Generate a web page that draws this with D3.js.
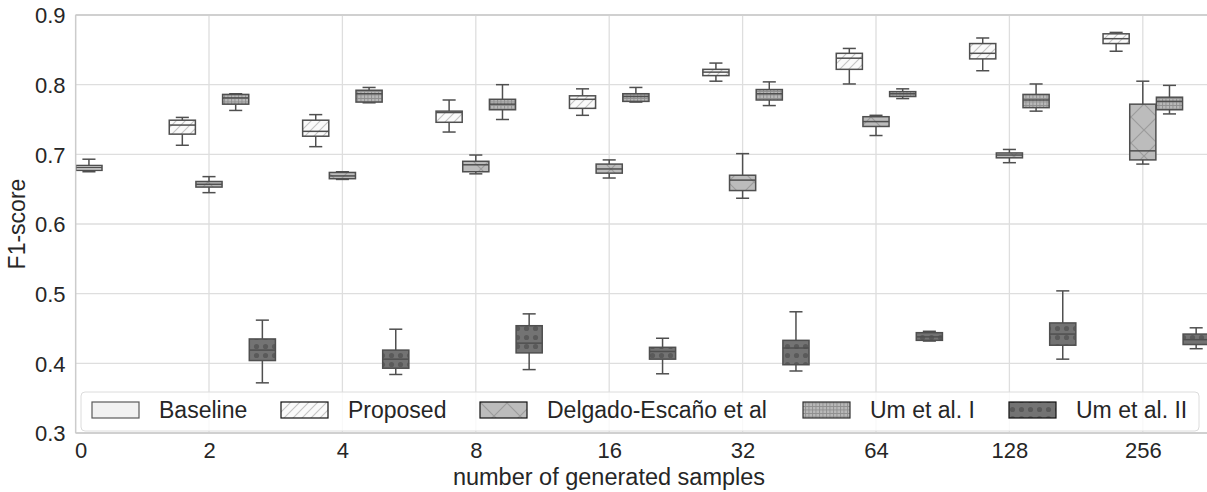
<!DOCTYPE html>
<html>
<head>
<meta charset="utf-8">
<script src="https://cdn.jsdelivr.net/npm/d3@7"></script>
<style>
  body { margin: 0; background: #fff; }
  svg text { font-family: "Liberation Sans", Arial, sans-serif; fill: #262626; }
</style>
</head>
<body>
<svg width="1207" height="492"></svg>
<script>
// categories on the x axis
const categories = ["0", "2", "4", "8", "16", "32", "64", "128", "256"];
const seriesNames = ["Baseline", "Proposed", "Delgado-Escaño et al", "Um et al. I", "Um et al. II"];
const yTicks = [0.3, 0.4, 0.5, 0.6, 0.7, 0.8, 0.9];

// box stats per category: [lower whisker, q1, median, q3, upper whisker]
const baseline = [
  [0.675, 0.677, 0.681, 0.684, 0.693],
  null, null, null, null, null, null, null, null
];
const proposed = [
  null,
  [0.713, 0.729, 0.742, 0.749, 0.753],
  [0.711, 0.726, 0.733, 0.749, 0.757],
  [0.732, 0.746, 0.760, 0.762, 0.778],
  [0.756, 0.766, 0.779, 0.784, 0.794],
  [0.805, 0.813, 0.818, 0.822, 0.831],
  [0.801, 0.822, 0.838, 0.845, 0.852],
  [0.820, 0.837, 0.845, 0.859, 0.867],
  [0.848, 0.859, 0.866, 0.873, 0.875]
];
const delgado = [
  null,
  [0.645, 0.653, 0.657, 0.661, 0.668],
  [0.664, 0.665, 0.669, 0.674, 0.675],
  [0.672, 0.675, 0.685, 0.690, 0.699],
  [0.666, 0.673, 0.679, 0.686, 0.692],
  [0.637, 0.648, 0.663, 0.670, 0.701],
  [0.727, 0.740, 0.747, 0.754, 0.756],
  [0.688, 0.695, 0.699, 0.702, 0.707],
  [0.686, 0.692, 0.705, 0.772, 0.805]
];
const umI = [
  null,
  [0.763, 0.772, 0.781, 0.786, 0.787],
  [0.774, 0.775, 0.787, 0.792, 0.796],
  [0.750, 0.764, 0.772, 0.779, 0.800],
  [0.775, 0.776, 0.783, 0.787, 0.796],
  [0.770, 0.778, 0.787, 0.793, 0.804],
  [0.780, 0.783, 0.787, 0.790, 0.794],
  [0.762, 0.767, 0.778, 0.786, 0.801],
  [0.758, 0.764, 0.776, 0.782, 0.799]
];
const umII = [
  null,
  [0.372, 0.404, 0.419, 0.435, 0.462],
  [0.384, 0.393, 0.406, 0.419, 0.449],
  [0.391, 0.415, 0.429, 0.454, 0.471],
  [0.385, 0.406, 0.417, 0.423, 0.436],
  [0.389, 0.398, 0.422, 0.433, 0.474],
  [0.432, 0.433, 0.438, 0.444, 0.446],
  [0.406, 0.426, 0.442, 0.458, 0.504],
  [0.421, 0.427, 0.434, 0.442, 0.451]
];
const allSeries = [baseline, proposed, delgado, umI, umII];

// Svg
let svg = d3.select("svg"),
  width = +svg.attr("width"),
  height = +svg.attr("height");

const margin = { left: 75.6, top: 15, bottom: 433 };

// x in category units, the plot stops half a category after the last one
const x = d3.scaleLinear().domain([0, 8.5]).range([margin.left, margin.left + 8.5 * 133.4]);
const y = d3.scaleLinear().domain([0.3, 0.9]).range([margin.bottom, margin.top]);

// hue offsets (baseline box sits just right of the 0 tick)
const offsets = [0.1, -0.2, 0, 0.2, 0.4];
const boxW = x(0.196) - x(0);
const edge = "#4f4f4f";

// patterns for the fills
const defs = svg.append("defs");

function pattern(id, w, h, bg) {
  const p = defs.append("pattern")
    .attr("id", id)
    .attr("patternUnits", "userSpaceOnUse")
    .attr("width", w)
    .attr("height", h);
  p.append("rect").attr("width", w).attr("height", h).attr("fill", bg);
  return p;
}

pattern("pBase", 10, 10, "#f1f1f1");

let p = pattern("pProp", 9, 9, "#fafafa");
p.append("path").attr("d", "M-1,10 L10,-1 M-1,1 L1,-1 M8,10 L10,8").attr("stroke", "#c4c4c4").attr("stroke-width", 1.1);

p = pattern("pDel", 26, 26, "#bcbcbc");
p.append("path").attr("d", "M0,0 L26,26 M0,26 L26,0").attr("stroke", "#9c9c9c").attr("stroke-width", 1.2);

p = pattern("pUm1", 3.5, 3.5, "#b9b9b9");
p.append("path").attr("d", "M0,0.5 H3.5 M0.5,0 V3.5").attr("stroke", "#8e8e8e").attr("stroke-width", 0.9);

p = pattern("pUm2", 9, 9, "#737373");
p.append("circle").attr("cx", 4.5).attr("cy", 4.5).attr("r", 2.6).attr("fill", "#5a5a5a");

const fills = ["url(#pBase)", "url(#pProp)", "url(#pDel)", "url(#pUm1)", "url(#pUm2)"];

// grid lines
svg.append("g")
  .selectAll("line.gy")
  .data(yTicks)
  .enter()
  .append("line")
  .attr("x1", margin.left)
  .attr("x2", width)
  .attr("y1", (d) => y(d))
  .attr("y2", (d) => y(d))
  .attr("stroke", (d) => (d === 0.3 || d === 0.9 ? "#cfcfcf" : "#dedede"))
  .attr("stroke-width", 1.3);

svg.append("g")
  .selectAll("line.gx")
  .data(categories)
  .enter()
  .append("line")
  .attr("x1", (d, i) => x(i))
  .attr("x2", (d, i) => x(i))
  .attr("y1", margin.top)
  .attr("y2", margin.bottom)
  .attr("stroke", (d, i) => (i === 0 ? "#cfcfcf" : "#dedede"))
  .attr("stroke-width", 1.3);

// the boxes
allSeries.forEach((series, s) => {
  const g = svg.append("g");
  series.forEach((st, i) => {
    if (!st) return;
    const cx = x(i + offsets[s]);
    // whiskers
    g.append("line")
      .attr("x1", cx).attr("x2", cx)
      .attr("y1", y(st[4])).attr("y2", y(st[3]))
      .attr("stroke", edge).attr("stroke-width", 1.5);
    g.append("line")
      .attr("x1", cx).attr("x2", cx)
      .attr("y1", y(st[1])).attr("y2", y(st[0]))
      .attr("stroke", edge).attr("stroke-width", 1.5);
    // caps
    [st[0], st[4]].forEach((v) => {
      g.append("line")
        .attr("x1", cx - boxW / 4).attr("x2", cx + boxW / 4)
        .attr("y1", y(v)).attr("y2", y(v))
        .attr("stroke", edge).attr("stroke-width", 1.5);
    });
    // box
    g.append("rect")
      .attr("x", cx - boxW / 2)
      .attr("y", y(st[3]))
      .attr("width", boxW)
      .attr("height", y(st[1]) - y(st[3]))
      .attr("fill", fills[s])
      .attr("stroke", edge)
      .attr("stroke-width", 1.5);
    // median
    g.append("line")
      .attr("x1", cx - boxW / 2).attr("x2", cx + boxW / 2)
      .attr("y1", y(st[2])).attr("y2", y(st[2]))
      .attr("stroke", edge).attr("stroke-width", 1.5);
  });
});

// spines
svg.append("line").attr("x1", margin.left).attr("x2", width).attr("y1", margin.top).attr("y2", margin.top)
  .attr("stroke", "#cccccc").attr("stroke-width", 1.3);
svg.append("line").attr("x1", margin.left).attr("x2", width).attr("y1", margin.bottom).attr("y2", margin.bottom)
  .attr("stroke", "#cccccc").attr("stroke-width", 1.3);
svg.append("line").attr("x1", margin.left).attr("x2", margin.left).attr("y1", margin.top).attr("y2", margin.bottom)
  .attr("stroke", "#cccccc").attr("stroke-width", 1.3);

// y axis labels
const yAxis = svg.append("g")
  .attr("transform", "translate(" + margin.left + ",0)")
  .call(d3.axisLeft(y).tickValues(yTicks).tickFormat(d3.format(".1f")).tickSize(0).tickPadding(10));
yAxis.select(".domain").remove();
yAxis.selectAll("text").style("font-size", "22px").attr("dy", "0.35em");

// x axis labels
const xAxis = svg.append("g")
  .attr("transform", "translate(0," + margin.bottom + ")")
  .call(d3.axisBottom(x).tickValues(d3.range(categories.length)).tickFormat((d) => categories[d]).tickSize(0).tickPadding(9));
xAxis.select(".domain").remove();
xAxis.selectAll("text").style("font-size", "22px");
// the "0" label is nudged off the left spine a little
xAxis.selectAll("text").filter((d) => d === 0).attr("dx", 5);

// axis titles
svg.append("text")
  .attr("x", 0).attr("y", 0)
  .attr("transform", "translate(25," + (margin.top + margin.bottom) / 2 + ") rotate(-90)")
  .attr("text-anchor", "middle")
  .style("font-size", "23px")
  .text("F1-score");

svg.append("text")
  .attr("x", 609)
  .attr("y", 485)
  .attr("text-anchor", "middle")
  .style("font-size", "23.5px")
  .text("number of generated samples");

// legend
const legend = svg.append("g");
legend.append("rect")
  .attr("x", 81).attr("y", 392)
  .attr("width", 1118).attr("height", 39)
  .attr("rx", 4)
  .attr("fill", "#fff").attr("fill-opacity", 0.8)
  .attr("stroke", "#dcdcdc").attr("stroke-width", 1);

const legendX = [92, 281, 480, 803, 1009];
const legendEdge = ["#5a5a5a", "#111", "#111", "#333", "#111"];
seriesNames.forEach((name, s) => {
  legend.append("rect")
    .attr("x", legendX[s]).attr("y", 402)
    .attr("width", 47).attr("height", 16)
    .attr("fill", fills[s])
    .attr("stroke", legendEdge[s]).attr("stroke-width", 1.2);
  legend.append("text")
    .attr("x", legendX[s] + 67)
    .attr("y", 418)
    .style("font-size", "23px")
    .text(name);
});
</script>
</body>
</html>
